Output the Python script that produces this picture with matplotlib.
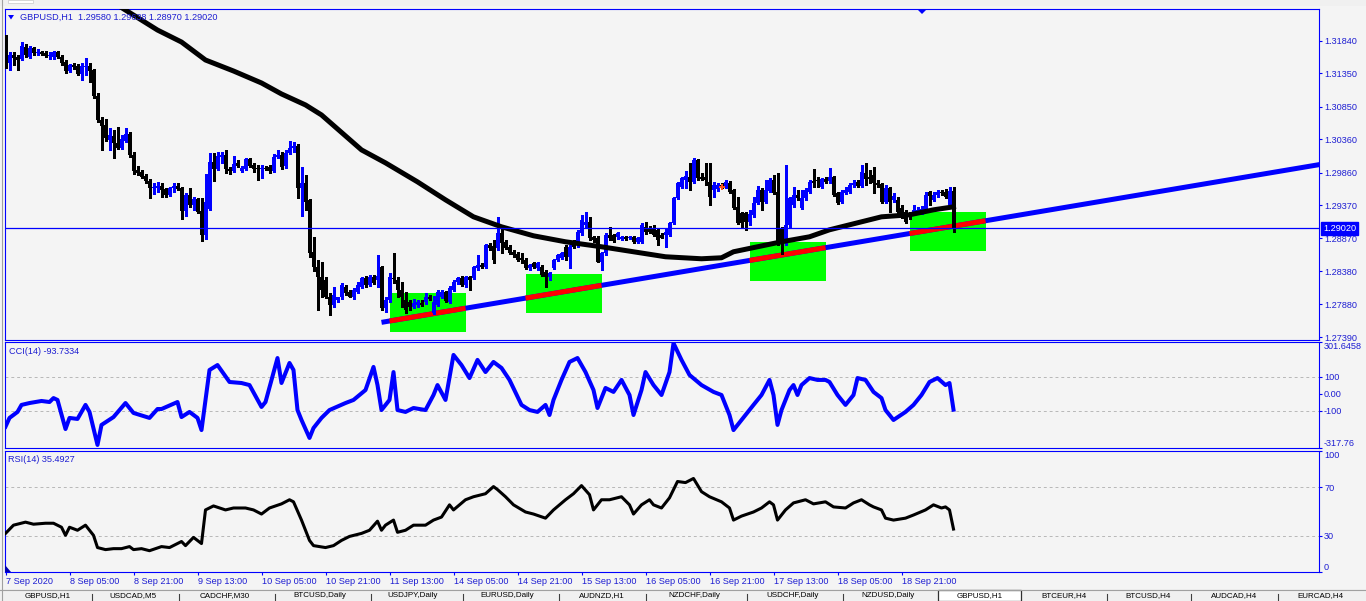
import matplotlib
matplotlib.use('Agg')
import matplotlib.pyplot as plt
from matplotlib.patches import Rectangle, Polygon
import numpy as np

# ---------------- data (GBPUSD H1) ----------------
open_ = [1.31850, 1.31505, 1.31625, 1.31595, 1.31565, 1.31745, 1.31595, 1.31730, 1.31655, 1.31670,
         1.31655, 1.31610, 1.31595, 1.31670, 1.31595, 1.31520, 1.31385, 1.31475, 1.31460, 1.31340,
         1.31445, 1.31460, 1.31400, 1.31010, 1.30650, 1.30575, 1.30350, 1.30410, 1.30305, 1.30230,
         1.30335, 1.30440, 1.30125, 1.29900, 1.29870, 1.29810, 1.29735, 1.29630, 1.29630, 1.29660,
         1.29615, 1.29525, 1.29630, 1.29660, 1.29630, 1.29285, 1.29525, 1.29375, 1.29465, 1.29285,
         1.28925, 1.29315, 1.30020, 1.29915, 1.30095, 1.30125, 1.29915, 1.29885, 1.30005, 1.29885,
         1.29915, 1.30065, 1.29975, 1.29930, 1.29915, 1.29930, 1.29945, 1.29885, 1.30095, 1.30125,
         1.29960, 1.30155, 1.30230, 1.30260, 1.29630, 1.29705, 1.29450, 1.28670, 1.28445, 1.28295,
         1.28250, 1.27995, 1.27875, 1.27950, 1.27995, 1.28145, 1.28070, 1.27995, 1.28070, 1.28145,
         1.28280, 1.28175, 1.28295, 1.28250, 1.28445, 1.27830, 1.27950, 1.28280, 1.28250, 1.28100,
         1.27950, 1.27920, 1.27845, 1.27875, 1.27905, 1.27920, 1.27995, 1.27755, 1.27875, 1.27995,
         1.28070, 1.27920, 1.28100, 1.28220, 1.28280, 1.28175, 1.28295, 1.28280, 1.28430, 1.28475,
         1.28445, 1.28775, 1.28760, 1.28730, 1.28955, 1.28820, 1.28745, 1.28670, 1.28640, 1.28580,
         1.28550, 1.28430, 1.28505, 1.28430, 1.28445, 1.28370, 1.28295, 1.28430, 1.28550, 1.28580,
         1.28745, 1.28595, 1.28820, 1.28775, 1.28955, 1.29075, 1.29120, 1.28895, 1.28880, 1.28520,
         1.28655, 1.28925, 1.28925, 1.28895, 1.28865, 1.28895, 1.28880, 1.28895, 1.28820, 1.28820,
         1.29045, 1.29030, 1.29030, 1.29000, 1.28925, 1.28925, 1.28925, 1.29105, 1.29480, 1.29645,
         1.29750, 1.29795, 1.29720, 1.30050, 1.29795, 1.29795, 1.29720, 1.29600, 1.29615, 1.29675,
         1.29645, 1.29705, 1.29600, 1.29345, 1.29255, 1.29255, 1.29120, 1.29225, 1.29405, 1.29600,
         1.29420, 1.29585, 1.29750, 1.29570, 1.29030, 1.28805, 1.29075, 1.29375, 1.29525, 1.29330,
         1.29480, 1.29570, 1.29735, 1.29750, 1.29645, 1.29765, 1.29735, 1.29795, 1.29555, 1.29420,
         1.29555, 1.29570, 1.29675, 1.29720, 1.29660, 1.29855, 1.29795, 1.29825, 1.29705, 1.29690,
         1.29420, 1.29630, 1.29450, 1.29450, 1.29330, 1.29270, 1.29255, 1.29255, 1.29270, 1.29285,
         1.29300, 1.29570, 1.29450, 1.29525, 1.29570, 1.29570, 1.29375, 1.29580]
high = [1.31925, 1.31670, 1.31670, 1.31625, 1.31820, 1.31790, 1.31760, 1.31745, 1.31715, 1.31685,
        1.31685, 1.31670, 1.31685, 1.31685, 1.31625, 1.31550, 1.31490, 1.31505, 1.31490, 1.31505,
        1.31580, 1.31505, 1.31415, 1.31055, 1.30695, 1.30665, 1.30530, 1.30500, 1.30545, 1.30425,
        1.30530, 1.30470, 1.30170, 1.29960, 1.29900, 1.29840, 1.29765, 1.29705, 1.29720, 1.29705,
        1.29630, 1.29645, 1.29705, 1.29705, 1.29645, 1.29555, 1.29630, 1.29495, 1.29480, 1.29480,
        1.29840, 1.30155, 1.30155, 1.30170, 1.30170, 1.30200, 1.29945, 1.30110, 1.30050, 1.29960,
        1.30080, 1.30080, 1.30005, 1.29975, 1.29975, 1.29960, 1.29975, 1.30140, 1.30200, 1.30170,
        1.30200, 1.30335, 1.30320, 1.30290, 1.29945, 1.29825, 1.29465, 1.28895, 1.28550, 1.28520,
        1.28295, 1.28055, 1.28145, 1.27995, 1.28205, 1.28175, 1.28100, 1.28130, 1.28220, 1.28295,
        1.28310, 1.28325, 1.28325, 1.28625, 1.28460, 1.27995, 1.28355, 1.28655, 1.28295, 1.28220,
        1.28070, 1.27950, 1.27965, 1.27950, 1.27950, 1.28055, 1.28025, 1.28010, 1.28100, 1.28100,
        1.28085, 1.28160, 1.28250, 1.28295, 1.28310, 1.28310, 1.28310, 1.28460, 1.28625, 1.28505,
        1.28790, 1.28805, 1.28850, 1.29195, 1.29075, 1.28850, 1.28775, 1.28700, 1.28670, 1.28655,
        1.28580, 1.28490, 1.28520, 1.28520, 1.28475, 1.28400, 1.28370, 1.28565, 1.28640, 1.28670,
        1.28775, 1.28775, 1.28850, 1.29000, 1.29225, 1.29270, 1.29195, 1.28910, 1.28910, 1.28670,
        1.28955, 1.29045, 1.28940, 1.28970, 1.28910, 1.28910, 1.28910, 1.28910, 1.28895, 1.29105,
        1.29120, 1.29060, 1.29075, 1.29015, 1.28955, 1.29030, 1.29120, 1.29495, 1.29720, 1.29795,
        1.29885, 1.30005, 1.30080, 1.30065, 1.29855, 1.30005, 1.30005, 1.29720, 1.29705, 1.29705,
        1.29750, 1.29735, 1.29615, 1.29495, 1.29270, 1.29270, 1.29300, 1.29495, 1.29660, 1.29630,
        1.29750, 1.29780, 1.29825, 1.29855, 1.29045, 1.29975, 1.29495, 1.29645, 1.29600, 1.29600,
        1.29630, 1.29750, 1.29915, 1.29795, 1.29780, 1.29795, 1.29930, 1.29810, 1.29570, 1.29600,
        1.29645, 1.29705, 1.29750, 1.29750, 1.29975, 1.30005, 1.29900, 1.29945, 1.29750, 1.29705,
        1.29675, 1.29645, 1.29555, 1.29495, 1.29375, 1.29300, 1.29270, 1.29375, 1.29345, 1.29360,
        1.29570, 1.29585, 1.29570, 1.29600, 1.29600, 1.29615, 1.29645, 1.29638]
low = [1.31430, 1.31400, 1.31475, 1.31400, 1.31550, 1.31595, 1.31580, 1.31625, 1.31625, 1.31625,
       1.31595, 1.31565, 1.31565, 1.31580, 1.31475, 1.31355, 1.31370, 1.31415, 1.31325, 1.31250,
       1.31325, 1.31220, 1.30980, 1.30620, 1.30200, 1.30335, 1.30200, 1.30080, 1.30215, 1.30215,
       1.30320, 1.30095, 1.29840, 1.29825, 1.29780, 1.29705, 1.29480, 1.29540, 1.29570, 1.29495,
       1.29495, 1.29510, 1.29570, 1.29600, 1.29165, 1.29210, 1.29345, 1.29300, 1.29255, 1.28835,
       1.28865, 1.29300, 1.29735, 1.29900, 1.30005, 1.29855, 1.29840, 1.29870, 1.29945, 1.29870,
       1.29900, 1.29945, 1.29870, 1.29750, 1.29780, 1.29900, 1.29855, 1.29870, 1.30080, 1.29915,
       1.29930, 1.30140, 1.30170, 1.29480, 1.29210, 1.29300, 1.28595, 1.28385, 1.27800, 1.27995,
       1.27980, 1.27725, 1.27845, 1.27920, 1.27965, 1.28025, 1.27995, 1.27965, 1.28055, 1.28130,
       1.28145, 1.28160, 1.28190, 1.28145, 1.27800, 1.27770, 1.27920, 1.28205, 1.27995, 1.27845,
       1.27755, 1.27800, 1.27830, 1.27845, 1.27860, 1.27890, 1.27950, 1.27740, 1.27860, 1.27980,
       1.27920, 1.27905, 1.28085, 1.28190, 1.28160, 1.28145, 1.28100, 1.28265, 1.28400, 1.28430,
       1.28430, 1.28700, 1.28505, 1.28700, 1.28655, 1.28715, 1.28640, 1.28595, 1.28535, 1.28505,
       1.28415, 1.28400, 1.28430, 1.28400, 1.28310, 1.28145, 1.28250, 1.28415, 1.28535, 1.28565,
       1.28550, 1.28430, 1.28730, 1.28745, 1.28925, 1.29045, 1.28850, 1.28820, 1.28520, 1.28400,
       1.28625, 1.28850, 1.28820, 1.28865, 1.28850, 1.28850, 1.28865, 1.28805, 1.28805, 1.28805,
       1.28940, 1.28955, 1.28910, 1.28775, 1.28880, 1.28745, 1.28910, 1.29090, 1.29465, 1.29630,
       1.29630, 1.29600, 1.29705, 1.29750, 1.29750, 1.29675, 1.29375, 1.29495, 1.29585, 1.29630,
       1.29630, 1.29555, 1.29315, 1.29090, 1.29045, 1.29000, 1.29075, 1.29195, 1.29390, 1.29300,
       1.29405, 1.29570, 1.29540, 1.28775, 1.28640, 1.28775, 1.29045, 1.29345, 1.29450, 1.29315,
       1.29450, 1.29555, 1.29645, 1.29645, 1.29630, 1.29705, 1.29705, 1.29510, 1.29390, 1.29405,
       1.29540, 1.29555, 1.29645, 1.29645, 1.29645, 1.29675, 1.29705, 1.29555, 1.29645, 1.29405,
       1.29405, 1.29270, 1.29420, 1.29255, 1.29180, 1.29105, 1.29165, 1.29225, 1.29240, 1.29240,
       1.29270, 1.29375, 1.29435, 1.29495, 1.29525, 1.29480, 1.29360, 1.28970]
close = [1.31550, 1.31625, 1.31580, 1.31550, 1.31760, 1.31625, 1.31730, 1.31655, 1.31670, 1.31640,
         1.31610, 1.31625, 1.31670, 1.31595, 1.31505, 1.31385, 1.31475, 1.31445, 1.31340, 1.31460,
         1.31460, 1.31385, 1.31010, 1.30650, 1.30560, 1.30380, 1.30425, 1.30305, 1.30230, 1.30365,
         1.30440, 1.30125, 1.29885, 1.29855, 1.29795, 1.29735, 1.29630, 1.29645, 1.29660, 1.29600,
         1.29525, 1.29630, 1.29660, 1.29615, 1.29285, 1.29525, 1.29375, 1.29465, 1.29270, 1.28925,
         1.29420, 1.30020, 1.29915, 1.30110, 1.30125, 1.29915, 1.29885, 1.29990, 1.29960, 1.29930,
         1.30065, 1.29960, 1.29915, 1.29915, 1.29930, 1.29915, 1.29885, 1.30095, 1.30125, 1.29945,
         1.30155, 1.30230, 1.30260, 1.29630, 1.29705, 1.29420, 1.28655, 1.28445, 1.28295, 1.28100,
         1.27995, 1.27875, 1.28025, 1.27995, 1.28175, 1.28055, 1.27995, 1.28100, 1.28175, 1.28280,
         1.28175, 1.28295, 1.28205, 1.28310, 1.27830, 1.27950, 1.28295, 1.28265, 1.28100, 1.27995,
         1.27800, 1.27845, 1.27905, 1.27920, 1.27875, 1.27995, 1.27965, 1.27920, 1.28070, 1.28070,
         1.27935, 1.28130, 1.28220, 1.28280, 1.28175, 1.28295, 1.28250, 1.28445, 1.28475, 1.28445,
         1.28775, 1.28730, 1.28550, 1.28955, 1.28805, 1.28730, 1.28655, 1.28625, 1.28550, 1.28550,
         1.28430, 1.28475, 1.28445, 1.28505, 1.28325, 1.28295, 1.28355, 1.28550, 1.28625, 1.28655,
         1.28595, 1.28745, 1.28745, 1.28970, 1.29150, 1.29120, 1.28880, 1.28850, 1.28520, 1.28655,
         1.28925, 1.28880, 1.28835, 1.28955, 1.28895, 1.28865, 1.28895, 1.28820, 1.28880, 1.29075,
         1.28970, 1.28970, 1.28925, 1.28850, 1.28880, 1.28970, 1.29105, 1.29480, 1.29705, 1.29780,
         1.29810, 1.29720, 1.30050, 1.29780, 1.29765, 1.29750, 1.29495, 1.29675, 1.29675, 1.29660,
         1.29720, 1.29570, 1.29330, 1.29105, 1.29105, 1.29120, 1.29240, 1.29405, 1.29600, 1.29420,
         1.29600, 1.29750, 1.29555, 1.28805, 1.28805, 1.29075, 1.29480, 1.29525, 1.29480, 1.29480,
         1.29600, 1.29720, 1.29705, 1.29735, 1.29765, 1.29720, 1.29795, 1.29525, 1.29405, 1.29570,
         1.29600, 1.29675, 1.29705, 1.29660, 1.29870, 1.29765, 1.29765, 1.29705, 1.29675, 1.29420,
         1.29630, 1.29420, 1.29510, 1.29270, 1.29255, 1.29120, 1.29195, 1.29300, 1.29300, 1.29315,
         1.29525, 1.29510, 1.29525, 1.29570, 1.29555, 1.29495, 1.29585, 1.29020]

# moving average (black curve), read at vertices
ma_bars = [28, 34, 38, 44, 50, 57, 64, 69, 75, 79, 89, 95, 103, 110, 117, 124, 132, 140,
           149, 157, 165, 174, 179, 182, 188, 194, 201, 206, 213, 219, 226, 232, 237]
ma_vals = [1.32375, 1.32150, 1.32000, 1.31820, 1.31550, 1.31385, 1.31205, 1.31040, 1.30875,
           1.30725, 1.30200, 1.30005, 1.29720, 1.29450, 1.29195, 1.29045, 1.28910, 1.28820,
           1.28745, 1.28670, 1.28595, 1.28565, 1.28580, 1.28670, 1.28745, 1.28820, 1.28895,
           1.29000, 1.29105, 1.29195, 1.29225, 1.29300, 1.29345]

# trend line anchors (ray to the right)
trend_bars = [94, 237]
trend_vals = [1.27610, 1.29055]

# green zones
rect_x0 = [96, 130, 186, 226]
rect_x1 = [115, 149, 205, 245]
rect_top = [1.28055, 1.28340, 1.28820, 1.29270]
rect_bottom = [1.27460, 1.27745, 1.28225, 1.28675]

# orange trade mark
mark_bar = [179]
mark_price = [1.29645]

# CCI(14), read at vertices
cci_bars = [0, 1, 3, 4, 6, 9, 11, 12, 13, 15, 16, 18, 20, 21, 23, 24, 27, 30, 32, 36, 38, 39, 43,
            44, 46, 48, 49, 51, 53, 56, 59, 61, 64, 65, 68, 69, 71, 72, 73, 74, 76, 77, 79, 81,
            85, 87, 90, 92, 93, 94, 96, 97, 98, 100, 102, 105, 107, 108, 110, 112, 114, 116,
            118, 120, 122, 124, 126, 129, 131, 133, 135, 136, 137, 139, 141, 143, 145, 147, 148,
            150, 152, 154, 156, 157, 159, 160, 162, 164, 166, 167, 169, 171, 174, 177, 179, 181,
            182, 184, 187, 189, 191, 192, 193, 194, 196, 197, 198, 199, 201, 203, 205, 206, 208,
            210, 212, 213, 215, 217, 219, 220, 222, 225, 227, 229, 231, 233, 235, 236, 237]
cci_vals = [-193, -142, -107, -66, -55, -43, -49, -26, -37, -207, -142, -148, -66, -107, -300,
            -183, -137, -55, -113, -142, -90, -90, -49, -137, -107, -142, -213, 138, 167, 68, 62,
            50, -78, -49, 208, 62, 179, 138, -96, -154, -259, -201, -142, -96, -55, -37, 21, 156,
            50, -96, -37, 126, -96, -107, -84, -96, -8, 50, -37, 226, 167, 91, 197, 126, 185, 150,
            80, -66, -96, -107, -66, -125, -37, 80, 185, 208, 126, 21, -84, 33, 10, 80, -8, -125,
            21, 126, 50, -8, 126, 295, 197, 109, 50, 10, -8, -125, -213, -154, -66, -8, 80, -8,
            -183, -96, 21, 50, -8, 50, 91, 80, 80, 68, -8, -66, -8, 91, 80, 10, -26, -96, -154,
            -107, -66, -8, 68, 91, 50, 62, -93.7334]

# RSI(14), read at vertices
rsi_bars = [0, 2, 5, 7, 10, 12, 14, 15, 16, 18, 20, 22, 23, 25, 27, 29, 31, 32, 34, 36, 39, 41,
            44, 45, 47, 49, 50, 52, 55, 57, 60, 62, 64, 66, 69, 71, 72, 74, 76, 77, 80, 82, 84,
            86, 89, 91, 93, 94, 95, 97, 98, 100, 102, 105, 107, 109, 111, 112, 115, 117, 120,
            122, 123, 125, 127, 130, 132, 135, 137, 140, 142, 144, 146, 147, 149, 151, 154, 156,
            157, 159, 161, 162, 164, 166, 168, 170, 172, 174, 176, 179, 181, 182, 184, 187, 189,
            191, 192, 193, 195, 197, 200, 202, 205, 207, 210, 212, 214, 216, 217, 219, 220, 222,
            225, 227, 230, 232, 234, 235, 236, 237]
rsi_vals = [31.9, 38.7, 41.2, 39.5, 40.3, 40.3, 37.0, 30.3, 37.0, 34.5, 38.7, 30.3, 20.2, 18.5,
            19.3, 19.3, 21.0, 18.5, 19.3, 17.6, 21.0, 20.2, 25.2, 21.8, 28.6, 23.5, 51.3, 54.6,
            51.3, 52.9, 52.9, 51.3, 47.9, 52.9, 56.3, 59.7, 58.0, 42.9, 26.1, 21.8, 20.2, 21.8,
            26.1, 29.4, 31.9, 34.5, 42.0, 34.5, 38.7, 42.9, 32.8, 34.5, 38.7, 38.7, 42.9, 45.4,
            55.5, 51.3, 59.7, 62.2, 64.7, 70.6, 68.1, 62.2, 55.5, 49.6, 47.9, 44.5, 51.3, 59.7,
            64.7, 71.4, 63.9, 51.3, 59.7, 59.7, 62.2, 55.5, 47.9, 55.5, 59.7, 55.5, 52.9, 61.3,
            74.8, 73.9, 77.3, 66.4, 62.2, 58.0, 52.9, 42.9, 46.2, 49.6, 52.9, 58.0, 55.5, 42.9,
            51.3, 57.1, 59.7, 56.3, 58.0, 53.8, 52.9, 57.1, 59.7, 55.5, 53.8, 51.3, 44.5, 42.9,
            44.5, 47.1, 51.3, 55.5, 52.9, 53.8, 51.3, 35.4927]

price_ticks = [1.31840, 1.31350, 1.30850, 1.30360, 1.29860, 1.29370, 1.28870, 1.28380, 1.27880, 1.27390]
cci_ticks = [301.6458, 100, 0, -100, -317.76]
cci_tick_labels = ['301.6458', '100', '0.00', '-100', '-317.76']
rsi_ticks = [100, 70, 30, 0]
rsi_tick_labels = ['100', '70', '30', '0']
time_tick_bars = [0, 16, 32, 48, 64, 80, 96, 112, 128, 144, 160, 176, 192, 208, 224]
time_tick_labels = ['7 Sep 2020', '8 Sep 05:00', '8 Sep 21:00', '9 Sep 13:00', '10 Sep 05:00',
                    '10 Sep 21:00', '11 Sep 13:00', '14 Sep 05:00', '14 Sep 21:00', '15 Sep 13:00',
                    '16 Sep 05:00', '16 Sep 21:00', '17 Sep 13:00', '18 Sep 05:00', '18 Sep 21:00']
tab_names = ['GBPUSD,H1', 'USDCAD,M5', 'CADCHF,M30', 'BTCUSD,Daily', 'USDJPY,Daily', 'EURUSD,Daily',
             'AUDNZD,H1', 'NZDCHF,Daily', 'USDCHF,Daily', 'NZDUSD,Daily', 'GBPUSD,H1', 'BTCEUR,H4',
             'BTCUSD,H4', 'AUDCAD,H4', 'EURCAD,H4']
symbol = 'GBPUSD,H1'

# ---------------- style / layout ----------------
plt.rcParams['font.family'] = ['Liberation Sans', 'DejaVu Sans']
FS = 6.6
BLUE = '#0000FF'
TXT = '#1E1ED2'
BG = '#F4F4F4'
W, H = 1366, 601

fig = plt.figure(figsize=(W / 100, H / 100), dpi=100)
fig.patch.set_facecolor(BG)


def axes_px(l, t, r, b):
    return fig.add_axes([l / W, 1 - b / H, (r - l) / W, (b - t) / H])


def ftext(x, y, s, **kw):
    return fig.text(x / W, 1 - y / H, s, **kw)


def fpoly(pts, **kw):
    p = Polygon([(x / W, 1 - y / H) for x, y in pts], closed=True,
                transform=fig.transFigure, **kw)
    fig.add_artist(p)


XMIN, XMAX = -0.25, 328.25
ax = axes_px(4.5, 9, 1318.5, 340)
ax_cci = axes_px(4.5, 342, 1318.5, 448)
ax_rsi = axes_px(4.5, 451, 1318.5, 572)

for a in (ax, ax_cci, ax_rsi):
    a.set_facecolor(BG)
    for s in a.spines.values():
        s.set_color(BLUE)
        s.set_linewidth(0.8)
    a.set_xlim(XMIN, XMAX)
    a.yaxis.tick_right()
    a.tick_params(axis='y', colors=BLUE, labelcolor=TXT, length=2.4, width=0.8,
                  pad=1.6, labelsize=FS, direction='out')
    a.tick_params(axis='x', bottom=False, labelbottom=False)

# ---- main price panel ----
ax.set_ylim(1.27345, 1.32316)
ax.set_yticks(price_ticks)
ax.set_yticklabels([f'{v:.5f}' for v in price_ticks])

for x0, x1, pt, pb in zip(rect_x0, rect_x1, rect_top, rect_bottom):
    ax.add_patch(Rectangle((x0, pb), x1 - x0, pt - pb, facecolor='#00FF00',
                           edgecolor='none', zorder=1, antialiased=False))

slope = (trend_vals[1] - trend_vals[0]) / (trend_bars[1] - trend_bars[0])


def trend_at(x):
    return trend_vals[0] + slope * (x - trend_bars[0])


ax.plot([trend_bars[0], XMAX + 1], [trend_at(trend_bars[0]), trend_at(XMAX + 1)],
        color=BLUE, lw=3.6, solid_capstyle='butt', zorder=2)
for x0, x1 in zip(rect_x0, rect_x1):
    ax.plot([x0, x1], [trend_at(x0), trend_at(x1)], color='#FF0000', lw=3.6,
            solid_capstyle='butt', zorder=2.1)

idx = np.arange(len(close))
o = np.array(open_)
c = np.array(close)
hi = np.array(high)
lo = np.array(low)
cols = np.where(c >= o, BLUE, '#000000')
ax.vlines(idx, lo, hi, colors=cols, linewidth=0.8, zorder=3, antialiased=False)
body_lo = np.minimum(o, c)
body_h = np.maximum(np.abs(c - o), 0.00015)
ax.bar(idx, body_h, bottom=body_lo, width=0.75, color=cols, linewidth=0,
       zorder=3, antialiased=False)

ax.plot(ma_bars, ma_vals, color='black', lw=3.6, solid_joinstyle='round', zorder=4)
ax.axhline(close[-1], color=BLUE, lw=0.9, zorder=5)
ax.plot(mark_bar, mark_price, marker='+', color='#FF5A1E', ms=4.5, mew=1.4,
        ls='none', zorder=6)
ax.annotate(f'{close[-1]:.5f}', xy=(1, close[-1]), xycoords=('axes fraction', 'data'),
            xytext=(3.2, 0), textcoords='offset points', ha='left', va='center',
            fontsize=FS, color='white', annotation_clip=False, zorder=10,
            bbox=dict(boxstyle='square,pad=0.22', fc=BLUE, ec=BLUE))

# ---- CCI panel ----
ax_cci.set_ylim(-317.76, 301.6458)
for lv in (100, -100):
    ax_cci.axhline(lv, color='#B8B8B8', lw=0.7, ls=(0, (3, 3)), zorder=1)
ax_cci.plot(cci_bars, cci_vals, color=BLUE, lw=2.9, solid_joinstyle='round', zorder=3)
ax_cci.set_yticks(cci_ticks)
ax_cci.set_yticklabels(cci_tick_labels)
tl = ax_cci.get_yticklabels()
tl[0].set_va('top')
tl[-1].set_va('bottom')

# ---- RSI panel ----
ax_rsi.set_ylim(0, 100)
for lv in (70, 30):
    ax_rsi.axhline(lv, color='#B8B8B8', lw=0.7, ls=(0, (3, 3)), zorder=1)
ax_rsi.plot(rsi_bars, rsi_vals, color='black', lw=2.2, solid_joinstyle='round', zorder=3)
ax_rsi.set_yticks(rsi_ticks)
ax_rsi.set_yticklabels(rsi_tick_labels)
tl = ax_rsi.get_yticklabels()
tl[0].set_va('top')
tl[-1].set_va('bottom')

ax_rsi.set_xticks(time_tick_bars)
ax_rsi.set_xticklabels(time_tick_labels, ha='left')
ax_rsi.tick_params(axis='x', bottom=True, labelbottom=True, colors=BLUE, labelcolor=TXT,
                   length=2.4, width=0.8, pad=1.5, labelsize=FS, direction='out')

# ---- panel captions ----
ftext(20, 17.5, f'{symbol}  {open_[-1]:.5f} {high[-1]:.5f} {low[-1]:.5f} {close[-1]:.5f}',
      fontsize=FS, color=TXT, va='center', ha='left')
fpoly([(8, 15), (14, 15), (11, 19.5)], facecolor=BLUE, edgecolor='none')
ftext(9, 351, f'CCI(14) {cci_vals[-1]:.4f}', fontsize=FS, color=TXT, va='center', ha='left')
ftext(8, 459.5, f'RSI(14) {rsi_vals[-1]:.4f}', fontsize=FS, color=TXT, va='center', ha='left')

# chart shift marker and corner marker
fpoly([(917, 9), (927, 9), (922, 14)], facecolor=BLUE, edgecolor='none')
fpoly([(4.5, 565), (4.5, 572), (10.5, 572)], facecolor='#0000B0', edgecolor='none')

# ---- window chrome: top strip, left border, tab bar ----
fig.add_artist(Rectangle((0, 1 - 6 / H), 1, 6 / H, transform=fig.transFigure,
                         facecolor='#F0F0F0', edgecolor='none'))
fig.add_artist(Rectangle((8 / W, 1 - 3 / H), 25 / W, 3 / H, transform=fig.transFigure,
                         facecolor='white', edgecolor='#C8C8C8', lw=0.5))
fig.add_artist(plt.Line2D([1.5 / W, 1.5 / W], [0, 1], transform=fig.transFigure,
                          color='#A0A0A0', lw=0.8))

fig.add_artist(Rectangle((0, 0), 1, 12 / H, transform=fig.transFigure,
                         facecolor='#F0F0F0', edgecolor='none'))
fig.add_artist(plt.Line2D([0, 1], [1 - 589.5 / H] * 2, transform=fig.transFigure,
                          color='#A0A0A0', lw=0.8))
tab_centers = [48, 133, 225, 320, 413, 507, 602, 694, 793, 888, 980, 1064, 1148, 1234, 1320]
tab_seps = [91.5, 178.6, 274.6, 370.5, 463, 559, 646, 746.5, 842.7, 1106.5, 1191, 1278.4]
fig.add_artist(Rectangle((938 / W, 0), (1021 - 938) / W, 11.5 / H, transform=fig.transFigure,
                         facecolor='white', edgecolor='#303030', lw=0.9))
for sx in tab_seps:
    fig.add_artist(plt.Line2D([sx / W, sx / W], [0, 1 - 594 / H], transform=fig.transFigure,
                              color='#404040', lw=0.8))
for cx, name in zip(tab_centers, tab_names):
    ftext(cx, 595.6, name, fontsize=5.8, color='black', ha='center', va='center')

fig.savefig('out.png', dpi=100, facecolor=fig.get_facecolor())
